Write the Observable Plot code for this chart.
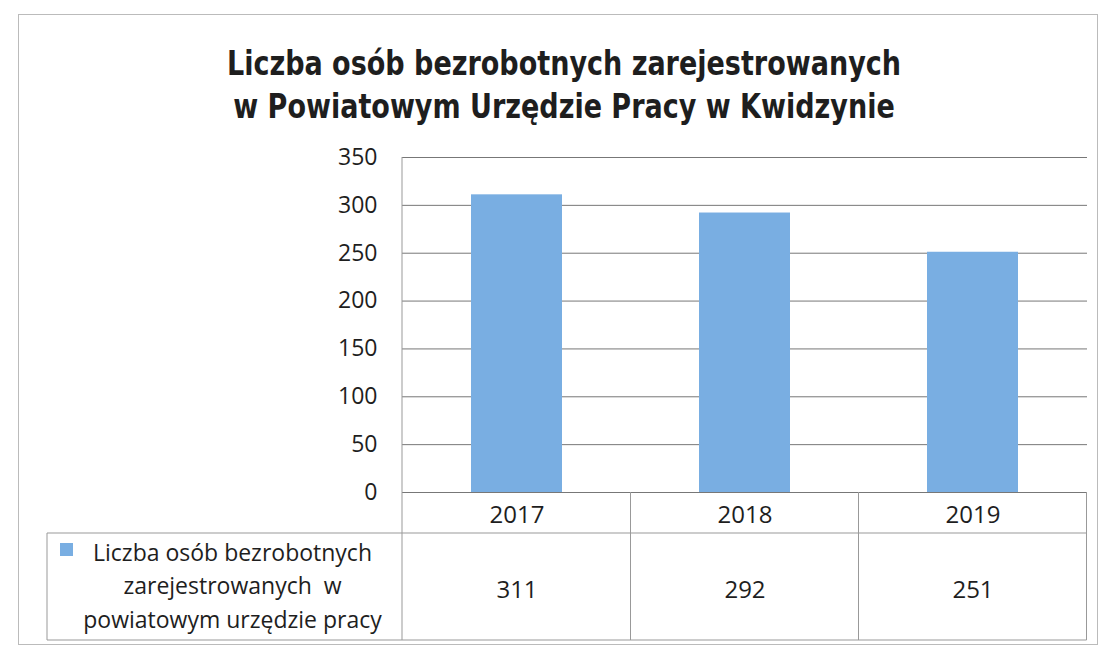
<!DOCTYPE html>
<html><head><meta charset="utf-8">
<script src="https://cdn.jsdelivr.net/npm/d3@7"></script>
<script src="https://cdn.jsdelivr.net/npm/@observablehq/plot@0.6"></script>
<style>
body{margin:0;background:#fff;}
#wrap{position:relative;width:1106px;height:651px;overflow:hidden;font-family:"Open Sans",sans-serif;color:#1e1e1e;}
#frame{position:absolute;left:18px;top:14px;width:1080px;height:631px;border:1px solid #bbb;pointer-events:none;box-sizing:border-box;}
#title{box-sizing:border-box;height:135px;width:1106px;padding-left:22px;padding-top:42px;text-align:center;font-family:"Liberation Sans Narrow","DejaVu Sans Condensed",sans-serif;font-weight:bold;font-size:33px;line-height:43px;color:#1e1e1e;}
#title div{white-space:nowrap;transform:scaleX(0.91);transform-origin:50% 50%;}
svg{display:block;}
</style></head>
<body>
<div id="wrap">
  <div id="title"></div>
  <div id="chart"></div>
  <div id="frame"></div>
</div>
<script>
const titleLines = ["Liczba osób bezrobotnych zarejestrowanych", "w Powiatowym Urzędzie Pracy w Kwidzynie"];
const years = ["2017", "2018", "2019"];
const values = [311, 292, 251];
const yTicks = [0, 50, 100, 150, 200, 250, 300, 350];
const seriesLabel = "Liczba osób bezrobotnych\nzarejestrowanych  w\npowiatowym urzędzie pracy";
const barColor = "#79aee2";

const data = years.map((y, i) => ({year: y, value: values[i]}));

d3.select("#title").selectAll("div").data(titleLines).join("div").text(d => d);

const plot = Plot.plot({
  width: 1106, height: 516,
  marginTop: 22, marginBottom: 159, marginLeft: 402, marginRight: 19,
  style: {fontFamily: "'Open Sans', sans-serif", fontSize: "22px", color: "#1e1e1e", background: "transparent", overflow: "visible"},
  x: {domain: years, paddingInner: 0.6, paddingOuter: 0.3, axis: null},
  y: {domain: [0, 350]},
  marks: [
    Plot.gridY(yTicks, {stroke: "#777", strokeOpacity: 1}),
    Plot.barY(data, {x: "year", y: "value", fill: barColor}),
    Plot.axisY(yTicks, {tickSize: 0, tickPadding: 25, fontSize: 23, label: null}),
    Plot.text(data, {x: "year", text: "year", frameAnchor: "bottom", lineAnchor: "middle", textAnchor: "middle", dy: 23, fontSize: 24}),
    Plot.text(data, {x: "year", text: d => String(d.value), frameAnchor: "bottom", lineAnchor: "middle", textAnchor: "middle", dy: 98, fontSize: 24}),
    Plot.text([seriesLabel], {text: d => d, frameAnchor: "bottom-left", lineAnchor: "middle", textAnchor: "middle", dx: -170, dy: 91, lineHeight: 1.45, fontSize: 23})
  ]
});
document.getElementById("chart").appendChild(plot);

// data table borders derived from the plot scales
const xs = plot.scale("x"), ys = plot.scale("y");
const gap = (xs.step - xs.bandwidth) / 2;
const edges = years.map(y => xs.apply(y) - gap);
const xLeft = xs.range[0], xRight = edges[edges.length - 1] + xs.step;
const y0 = ys.apply(0), yTop = ys.apply(350);
const row1 = y0 + 41, row2 = y0 + 148;
const tableLeft = 47;
const svg = d3.select(plot);
const g = svg.append("g").attr("stroke", "#999").attr("stroke-width", 1).attr("fill", "none");
const lines = [
  [tableLeft, row1, xRight, row1],
  [tableLeft, row2, xRight, row2],
  [tableLeft, row1, tableLeft, row2],
  [xLeft, yTop, xLeft, row2],
  ...edges.slice(1).map(x => [x, y0, x, row2]),
  [xRight, y0, xRight, row2]
];
g.selectAll("line").data(lines).join("line")
  .attr("x1", d => d[0]).attr("y1", d => d[1]).attr("x2", d => d[2]).attr("y2", d => d[3]);
svg.append("rect").attr("x", 60).attr("y", row1 + 10).attr("width", 13).attr("height", 13).attr("fill", barColor);
</script>
</body></html>
